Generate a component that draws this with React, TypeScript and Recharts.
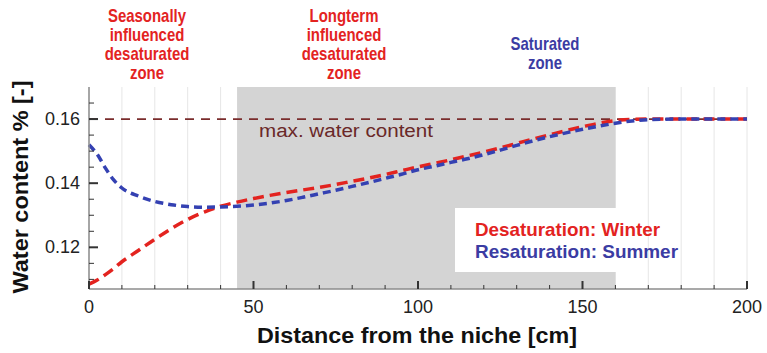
import React from "react";
import {
  ComposedChart,
  Line,
  XAxis,
  YAxis,
  CartesianGrid,
  ReferenceArea,
  ReferenceLine,
  Customized,
} from "recharts";

// distance from the niche [cm]
const distance = [
  0, 2.5, 5, 7.5, 10, 15, 20, 25, 30, 35, 40, 45, 50, 55, 60, 65, 70, 75, 80,
  85, 90, 95, 100, 105, 110, 115, 120, 125, 130, 135, 140, 145, 150, 155, 160,
  165, 170, 180, 190, 200,
];
// desaturation: winter
const winter = [
  0.1085, 0.1098, 0.1115, 0.1134, 0.1155, 0.119, 0.1225, 0.1258, 0.1287,
  0.131, 0.1328, 0.1341, 0.1352, 0.1362, 0.1371, 0.1379, 0.1387, 0.1396,
  0.1406, 0.1416, 0.1427, 0.1439, 0.1451, 0.1462, 0.1473, 0.1485, 0.1497,
  0.151, 0.1524, 0.1538, 0.1551, 0.1564, 0.1576, 0.1587, 0.1595, 0.1599, 0.16,
  0.16, 0.16, 0.16,
];
// resaturation: summer
const summer = [
  0.152, 0.149, 0.1447, 0.141, 0.1385, 0.136, 0.1343, 0.1333, 0.1327, 0.1325,
  0.1326, 0.1328, 0.1332, 0.1338, 0.1346, 0.1356, 0.1367, 0.1378, 0.139,
  0.1402, 0.1415, 0.1428, 0.1442, 0.1453, 0.1465, 0.1476, 0.1489, 0.1503,
  0.1518, 0.1532, 0.1545, 0.1557, 0.1568, 0.1578, 0.1587, 0.1594, 0.1598,
  0.16, 0.16, 0.16,
];

const xTicks = [
  0, 10, 20, 30, 40, 50, 60, 70, 80, 90, 100, 110, 120, 130, 140, 150, 160,
  170, 180, 190, 200,
];
const xMajor = [0, 50, 100, 150, 200];
const yTicks = [
  0.11, 0.115, 0.12, 0.125, 0.13, 0.135, 0.14, 0.145, 0.15, 0.155, 0.16,
  0.165,
];
const yMajor = [0.12, 0.14, 0.16];

const maxWater = 0.16;
const longtermStart = 45;
const longtermEnd = 160;

const seasonalTitle = ["Seasonally", "influenced", "desaturated", "zone"];
const longtermTitle = ["Longterm", "influenced", "desaturated", "zone"];
const saturatedTitle = ["Saturated", "zone"];
const legendItems = ["Desaturation: Winter", "Resaturation: Summer"];

const data = distance.map((x, i) => ({
  x,
  winter: winter[i],
  summer: summer[i],
}));

const FONT = "'Liberation Sans', Arial, sans-serif";
const RED = "#e3231f";
const BLUE = "#3441b2";
const BLUE_TEXT = "#3b3ca3";
const MAROON = "#7a2c2c";
const AXIS = "#8c8c8c";

const isMajor = (list: number[], v: number) =>
  list.some((m) => Math.abs(m - v) < 1e-9);

function XTick(props: any) {
  const { x, y, payload } = props;
  const major = isMajor(xMajor, payload.value);
  return (
    <g>
      <line
        x1={x}
        x2={x}
        y1={y}
        y2={y - (major ? 8 : 4)}
        stroke="#333"
        strokeWidth={major ? 2 : 1}
      />
      {major && (
        <text
          x={x}
          y={y + 24}
          textAnchor="middle"
          fontSize={18}
          fontFamily={FONT}
          fill="#222"
        >
          {payload.value}
        </text>
      )}
    </g>
  );
}

function YTick(props: any) {
  const { x, y, payload } = props;
  const major = isMajor(yMajor, payload.value);
  return (
    <g>
      <line
        x1={x}
        x2={x + (major ? 9 : 5)}
        y1={y}
        y2={y}
        stroke="#333"
        strokeWidth={major ? 2 : 1}
      />
      {major && (
        <text
          x={x - 9}
          y={y + 6}
          textAnchor="end"
          fontSize={18}
          fontFamily={FONT}
          fill="#222"
        >
          {payload.value.toFixed(2)}
        </text>
      )}
    </g>
  );
}

function ZoneTitle({
  lines,
  cx,
  top,
  color,
}: {
  lines: string[];
  cx: number;
  top: number;
  color: string;
}) {
  return (
    <g transform={`translate(${cx},0) scale(0.83,1)`}>
      {lines.map((t, i) => (
        <text
          key={i}
          x={0}
          y={top + i * 19}
          textAnchor="middle"
          fontSize={18}
          fontWeight="bold"
          fontFamily={FONT}
          fill={color}
        >
          {t}
        </text>
      ))}
    </g>
  );
}

// shaded longterm zone, with the max-content note and legend box drawn on top
function ZoneShape(props: any) {
  const { x, y, width, height } = props;
  return (
    <g>
      <rect x={x} y={y} width={width} height={height} fill="#d4d4d4" />
      <text
        x={259}
        y={137}
        fontSize={18}
        fontFamily={FONT}
        fill="#6a2828"
        textLength={174}
        lengthAdjust="spacingAndGlyphs"
      >
        max. water content
      </text>
      <rect x={455} y={208} width={163} height={64} fill="#fff" />
      <text
        x={475}
        y={236}
        fontSize={18.5}
        fontWeight="bold"
        fontFamily={FONT}
        fill={RED}
        textLength={185}
        lengthAdjust="spacingAndGlyphs"
      >
        {legendItems[0]}
      </text>
      <text
        x={475}
        y={258}
        fontSize={18.5}
        fontWeight="bold"
        fontFamily={FONT}
        fill={BLUE_TEXT}
        textLength={203}
        lengthAdjust="spacingAndGlyphs"
      >
        {legendItems[1]}
      </text>
    </g>
  );
}

function Annotations() {
  return (
    <g>
      <ZoneTitle lines={seasonalTitle} cx={147} top={22} color={RED} />
      <ZoneTitle lines={longtermTitle} cx={344} top={22} color={RED} />
      <ZoneTitle lines={saturatedTitle} cx={545} top={50} color={BLUE_TEXT} />
      <text
        x={417}
        y={343}
        textAnchor="middle"
        fontSize={22}
        fontWeight="bold"
        fontFamily={FONT}
        fill="#111"
        textLength={320}
        lengthAdjust="spacingAndGlyphs"
      >
        Distance from the niche [cm]
      </text>
      <text
        transform="translate(28,187) rotate(-90)"
        x={0}
        y={0}
        textAnchor="middle"
        fontSize={22}
        fontWeight="bold"
        fontFamily={FONT}
        fill="#111"
        textLength={213}
        lengthAdjust="spacingAndGlyphs"
      >
        Water content % [-]
      </text>
    </g>
  );
}

export default function App() {
  return (
    <div style={{ width: 767, height: 353, fontFamily: FONT }}>
      <style>{`body{margin:0}`}</style>
      <ComposedChart
        width={767}
        height={353}
        data={data}
        margin={{ top: 87, right: 20, bottom: 0, left: 0 }}
      >
        <CartesianGrid
          horizontal={false}
          vertical
          stroke="#e6e6e6"
          strokeWidth={1}
        />
        <ReferenceArea
          x1={longtermStart}
          x2={longtermEnd}
          shape={<ZoneShape />}
        />
        <XAxis
          dataKey="x"
          type="number"
          domain={[0, 200]}
          ticks={xTicks}
          interval={0}
          height={64}
          tickSize={0}
          tickMargin={0}
          tickLine={false}
          tick={<XTick />}
          axisLine={{ stroke: AXIS, strokeWidth: 1.5 }}
        />
        <XAxis
          xAxisId="top"
          orientation="top"
          dataKey="x"
          type="number"
          domain={[0, 200]}
          height={0}
          tick={false}
          tickLine={false}
          axisLine={{ stroke: AXIS, strokeWidth: 1.5 }}
        />
        <YAxis
          type="number"
          domain={[0.107, 0.17]}
          ticks={yTicks}
          interval={0}
          width={89}
          tickSize={0}
          tickMargin={0}
          tickLine={false}
          tick={<YTick />}
          axisLine={{ stroke: AXIS, strokeWidth: 1.5 }}
          allowDataOverflow
        />
        <YAxis
          yAxisId="right"
          orientation="right"
          type="number"
          domain={[0.107, 0.17]}
          width={0}
          tick={false}
          tickLine={false}
          axisLine={{ stroke: AXIS, strokeWidth: 1.5 }}
        />
        <Customized component={<Annotations />} />
        <ReferenceLine
          y={maxWater}
          stroke={MAROON}
          strokeWidth={1.8}
          strokeDasharray="9 7"
        />
        <Line
          dataKey="winter"
          type="monotone"
          stroke={RED}
          strokeWidth={3.5}
          strokeDasharray="11 6"
          dot={false}
          isAnimationActive={false}
        />
        <Line
          dataKey="summer"
          type="monotone"
          stroke={BLUE}
          strokeWidth={3.5}
          strokeDasharray="8 5"
          dot={false}
          isAnimationActive={false}
        />
      </ComposedChart>
    </div>
  );
}
